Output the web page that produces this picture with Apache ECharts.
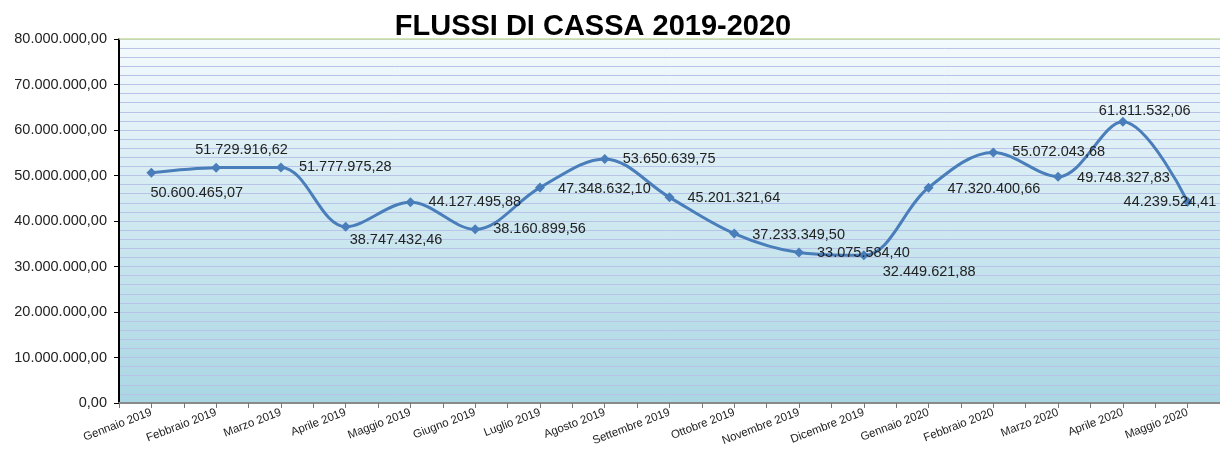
<!DOCTYPE html>
<html>
<head>
<meta charset="utf-8">
<script src="https://cdn.jsdelivr.net/npm/echarts@6/dist/echarts.min.js"></script>
<style>
  html, body { margin: 0; padding: 0; background: #fff; }
  #chart { width: 1220px; height: 459px; }
</style>
</head>
<body>
<div id="chart"></div>
<script>
// dati
const months = [
  'Gennaio 2019', 'Febbraio 2019', 'Marzo 2019', 'Aprile 2019', 'Maggio 2019',
  'Giugno 2019', 'Luglio 2019', 'Agosto 2019', 'Settembre 2019', 'Ottobre 2019',
  'Novembre 2019', 'Dicembre 2019', 'Gennaio 2020', 'Febbraio 2020', 'Marzo 2020',
  'Aprile 2020', 'Maggio 2020'
];
const flussi = [
  50600465.07, 51729916.62, 51777975.28, 38747432.46, 44127495.88,
  38160899.56, 47348632.10, 53650639.75, 45201321.64, 37233349.50,
  33075584.40, 32449621.88, 47320400.66, 55072043.68, 49748327.83,
  61811532.06, 44239524.41
];

// spostamento delle etichette rispetto al punto
const labelShift = [
  [-11, 20], [-31, -18], [8, 0], [-6, 13], [8, 0],
  [8, 0], [8, 1], [8, 0], [8, 1], [8, 1],
  [8, 0], [9, 17], [9, 1], [9, 0], [9, 1],
  [-34, -11], [-74, 0]
];

function fmtIt(v) {
  const parts = v.toFixed(2).split('.');
  const int = parts[0].replace(/\B(?=(\d{3})+(?!\d))/g, '.');
  return int + ',' + parts[1];
}

const chart = echarts.init(document.getElementById('chart'));

const option = {
  animation: false,
  textStyle: { fontFamily: 'Liberation Sans, Arial, sans-serif' },
  title: {
    text: 'FLUSSI DI CASSA 2019-2020',
    left: 588,
    textAlign: 'center',
    top: 7,
    textStyle: { fontSize: 29, fontWeight: 'bold', color: '#000', fontFamily: 'Liberation Sans, Arial, sans-serif' }
  },
  grid: {
    left: 119,
    right: 0,
    top: 39,
    bottom: 56,
    show: true,
    borderWidth: 0,
    backgroundColor: new echarts.graphic.LinearGradient(0, 0, 0, 1, [
      { offset: 0, color: '#f4fafd' },
      { offset: 1, color: '#a9d6e3' }
    ])
  },
  xAxis: [
    {
      type: 'category',
      data: months,
      boundaryGap: true,
      axisLine: { lineStyle: { color: '#8a8a8a', width: 2 } },
      axisTick: { show: false },
      axisLabel: {
        rotate: 21,
        fontSize: 11.5,
        color: '#222',
        margin: 9,
        interval: 0
      },
      splitLine: { show: false }
    },
    {
      // tacche ogni mezza categoria
      type: 'value',
      min: 0,
      max: 34,
      interval: 1,
      position: 'bottom',
      axisLine: { show: false },
      axisLabel: { show: false },
      splitLine: { show: false },
      axisTick: { show: true, length: 5, lineStyle: { color: '#777', width: 1 } }
    },
    {
      // bordo superiore verde
      type: 'category',
      position: 'top',
      data: months,
      axisLine: { show: true, lineStyle: { color: '#c9dda0', width: 1.5 } },
      axisTick: { show: false },
      axisLabel: { show: false },
      splitLine: { show: false }
    }
  ],
  yAxis: {
    type: 'value',
    min: 0,
    max: 80000000,
    interval: 10000000,
    axisLine: { show: true, lineStyle: { color: '#000', width: 2 } },
    axisTick: { show: true, length: 5, lineStyle: { color: '#000' } },
    axisLabel: {
      fontSize: 14.5,
      color: '#222',
      margin: 12,
      formatter: (v) => fmtIt(v)
    },
    splitLine: { show: true, lineStyle: { color: '#b9c3e8', width: 1 } },
    minorTick: { show: false, splitNumber: 5 },
    minorSplitLine: { show: true, lineStyle: { color: '#b9c3e8', width: 1 } }
  },
  series: [
    {
      type: 'line',
      xAxisIndex: 0,
      smooth: 0.35,
      symbol: 'diamond',
      symbolSize: 10,
      lineStyle: { color: '#4a7ebb', width: 3 },
      itemStyle: { color: '#4a7ebb' },
      data: flussi.map((v, i) => ({
        value: v,
        label: { offset: labelShift[i] }
      })),
      label: {
        show: true,
        position: 'right',
        distance: 5,
        fontSize: 14.5,
        color: '#222',
        formatter: (p) => fmtIt(p.value)
      }
    }
  ]
};

chart.setOption(option);
</script>
</body>
</html>
